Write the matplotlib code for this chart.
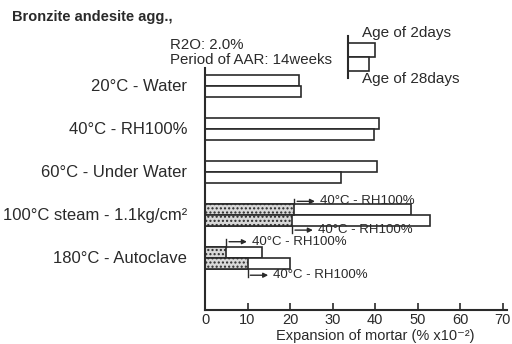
import matplotlib.pyplot as plt
import numpy as np

# Data (expansion of mortar, % x 1e-2)
conditions = ['20°C - Water', '40°C - RH100%', '60°C - Under Water',
              '100°C steam - 1.1kg/cm²', '180°C - Autoclave']
age2 = [22.1, 41.0, 40.5, 48.3, 13.3]
age28 = [22.6, 39.8, 32.0, 52.8, 20.0]
# part of the total reached before the 40°C-RH100% step (stippled)
pre2 = [0, 0, 0, 21.0, 5.0]
pre28 = [0, 0, 0, 20.5, 10.0]
legend_vals = [12.4, 9.8]
xticks = [0, 10, 20, 30, 40, 50, 60, 70]

ink = '#2a2a2a'
plt.rcParams['font.family'] = ['Liberation Sans', 'DejaVu Sans']

fig = plt.figure(figsize=(5.12, 3.44), dpi=100)
ax = fig.add_axes([0.4004, 0.0988, 0.59, 0.703])

y = np.arange(len(conditions))
h = 0.25
off = 0.125
ax.barh(y - off, age2, height=h, color='white', edgecolor=ink, linewidth=1.2)
ax.barh(y + off, age28, height=h, color='white', edgecolor=ink, linewidth=1.2)
ax.barh(y - off, pre2, height=h, color='#d8d8d8', edgecolor=ink, linewidth=1.2, hatch='....')
ax.barh(y + off, pre28, height=h, color='#d8d8d8', edgecolor=ink, linewidth=1.2, hatch='....')

ax.set_xlim(0, 71)
ax.set_ylim(5.21, -0.42)
ax.set_yticks([])
ax.set_xticks(xticks)
ax.tick_params(axis='x', direction='in', length=5, width=1.2, colors=ink,
               labelsize=10.5, pad=2.5)
for s in ['top', 'right']:
    ax.spines[s].set_visible(False)
for s in ['left', 'bottom']:
    ax.spines[s].set_linewidth(1.5)
    ax.spines[s].set_color(ink)
fig.text(0.733, 0.004, 'Expansion of mortar (% x10⁻²)', fontsize=10.5,
         color=ink, ha='center', va='bottom')

for yi, lab in zip(y, conditions):
    ax.text(-4.2, yi, lab, ha='right', va='center', fontsize=12, color=ink)

# 40°C-RH100% markers
def mark(xv, yb, ye, ya, tx):
    ax.plot([xv, xv], [yb, ye], color=ink, lw=1)
    ax.annotate('', xy=(xv + 5.5, ya), xytext=(xv, ya),
                arrowprops=dict(arrowstyle='-|>', color=ink, lw=1, mutation_scale=7))
    ax.text(tx, ya, '40°C - RH100%', fontsize=9.5, va='center', color=ink)

mark(pre2[3], 3 - off - h / 2, 2.63, 2.68, pre2[3] + 6)
mark(pre28[3], 3 + off + h / 2, 3.42, 3.35, pre28[3] + 6)
mark(pre2[4], 4 - off - h / 2, 3.56, 3.62, pre2[4] + 6)
mark(pre28[4], 4 + off + h / 2, 4.45, 4.4, pre28[4] + 6)

# legend
lax = fig.add_axes([0.6797, 0.773, 0.2, 0.122])
lax.barh([0, 1], legend_vals, height=0.95, color='white', edgecolor=ink, linewidth=1.2)
lax.set_xlim(0, 47.6)
lax.set_ylim(1.95, -0.95)
lax.axis('off')
lax.plot([0, 0], [-0.95, 1.95], color=ink, lw=1.5, clip_on=False)
fig.text(0.707, 0.904, 'Age of 2days', fontsize=11, color=ink, va='center')
fig.text(0.707, 0.77, 'Age of 28days', fontsize=11, color=ink, va='center')

fig.text(0.023, 0.95, 'Bronzite andesite agg.,', fontsize=10.5, color=ink,
         va='center', fontweight='bold')
fig.text(0.332, 0.868, 'R2O: 2.0%', fontsize=10.8, color=ink, va='center')
fig.text(0.332, 0.825, 'Period of AAR: 14weeks', fontsize=10.8, color=ink, va='center')

fig.savefig('out.png', dpi=100)
